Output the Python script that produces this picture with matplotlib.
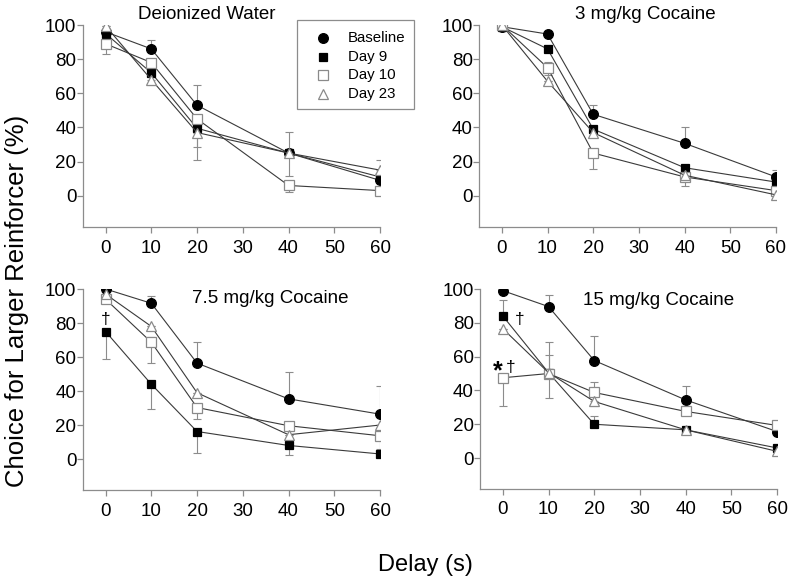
import matplotlib
matplotlib.use("Agg")
import matplotlib.pyplot as plt
from matplotlib.lines import Line2D
from matplotlib.patches import Rectangle

plt.rcParams['font.family'] = ['Liberation Sans', 'DejaVu Sans']

delay = [0, 10, 20, 40, 60]
series_names = ["Baseline", "Day 9", "Day 10", "Day 23"]
panel_titles = ["Deionized Water", "3 mg/kg Cocaine", "7.5 mg/kg Cocaine", "15 mg/kg Cocaine"]

# values per panel, per series
water_baseline = [96, 86, 53, 25, 9]
water_day9 = [95, 72, 39.5, 25, 11]
water_day10 = [89, 78, 45, 6, 3]
water_day23 = [99.5, 68, 37, 25, 15]

c3_baseline = [99, 94.7, 47.7, 30.7, 11]
c3_day9 = [99, 86, 39, 16.4, 8]
c3_day10 = [100, 75, 25, 11, 3]
c3_day23 = [100, 67, 37, 12, 0.5]

c75_baseline = [100, 91.6, 56.4, 35.4, 26.4]
c75_day9 = [75, 44, 16.2, 8, 3]
c75_day10 = [94, 68.7, 30.3, 19.6, 13.7]
c75_day23 = [97, 78, 39, 14.3, 20]

c15_baseline = [99, 89.6, 57.7, 34.4, 15.7]
c15_day9 = [84, 50.5, 20, 16.7, 6]
c15_day10 = [47.5, 50, 38.8, 27.6, 19.3]
c15_day23 = [76.5, 50.5, 33.5, 16.7, 4]

# asymmetric error bars (lower, upper) per series
water_err_lo = [[0, 0, 0, 0, 0], [0, 0, 11, 13.5, 0], [6, 0, 0, 4, 2.5], [0, 3, 16, 0, 0]]
water_err_hi = [[0, 5, 12, 12.5, 0], [0, 0, 0, 0, 0], [0, 2, 0, 0, 0], [0, 0, 0, 0, 6]]
c3_err_lo = [[0, 0, 0, 0, 0], [0, 0, 0, 0, 0], [0, 4, 9.5, 5.3, 0], [0, 0, 0, 0, 0]]
c3_err_hi = [[0, 0, 5.5, 9.5, 4], [0, 2, 0, 0, 0], [0, 3.5, 0, 0, 0], [0, 0, 0, 0, 0]]
c75_err_lo = [[0, 0, 0, 0, 0], [16, 14.5, 12.7, 5.5, 0], [0, 12, 7, 0, 7.8], [0, 0, 0, 0, 0]]
c75_err_hi = [[0, 4, 12.6, 15.6, 16.8], [0, 0, 0, 0, 0], [0, 3, 0, 0, 0], [0, 0, 0, 0, 0]]
c15_err_lo = [[0, 0, 0, 0, 0], [0, 14.7, 0, 0, 0], [17, 0, 0, 0, 0], [0, 0, 3, 0, 0]]
c15_err_hi = [[0, 7, 14.3, 8, 0], [9.5, 0, 4.6, 0, 0], [0, 11, 6, 0, 0], [0, 18.4, 0, 0, 0]]

panels = [
    ([water_baseline, water_day9, water_day10, water_day23], water_err_lo, water_err_hi),
    ([c3_baseline, c3_day9, c3_day10, c3_day23], c3_err_lo, c3_err_hi),
    ([c75_baseline, c75_day9, c75_day10, c75_day23], c75_err_lo, c75_err_hi),
    ([c15_baseline, c15_day9, c15_day10, c15_day23], c15_err_lo, c15_err_hi),
]

styles = [
    dict(marker='o', mfc='black', mec='black', ms=7),
    dict(marker='s', mfc='black', mec='black', ms=6.2),
    dict(marker='s', mfc='white', mec='#8a8a8a', ms=6.5),
    dict(marker='^', mfc='white', mec='#8a8a8a', ms=7.5),
]

fig = plt.figure(figsize=(7.95, 5.87), dpi=100)
W, H = 795.0, 587.0
rects_px = [
    (82.7, 25.0, 380.0, 227.3),
    (479.0, 25.0, 776.0, 227.3),
    (82.7, 289.0, 380.0, 490.0),
    (480.0, 289.0, 777.0, 489.0),
]
ylo = [-18.5, -18.5, -18.2, -18.3]

title_pos = [(22.1, 106, 'center'), (31.4, 106, 'center'), (36.1, 94.5, 'center'), (34.1, 93.0, 'center')]

axes = []
for i, (l, t, r, b) in enumerate(rects_px):
    ax = fig.add_axes([l / W, 1 - b / H, (r - l) / W, (b - t) / H])
    axes.append(ax)
    data, elo, ehi = panels[i]
    for j, vals in enumerate(data):
        ax.errorbar(delay, vals, yerr=[elo[j], ehi[j]], fmt='none', ecolor='#8c8c8c',
                    elinewidth=0.8, capsize=3, capthick=0.8, zorder=2)
    for j, vals in enumerate(data):
        ax.plot(delay, vals, color='#3a3a3a', lw=0.8, zorder=3, **styles[j],
                mew=0.9, label=series_names[j])
    ax.set_xlim(-5, 60)
    ax.set_ylim(ylo[i], 100)
    ax.set_xticks([0, 10, 20, 30, 40, 50, 60])
    ax.set_yticks([0, 20, 40, 60, 80, 100])
    for s in ['top', 'right']:
        ax.spines[s].set_visible(False)
    for s in ['left', 'bottom']:
        ax.spines[s].set_color('#8c8c8c')
        ax.spines[s].set_linewidth(0.9)
    ax.tick_params(axis='both', colors='#8c8c8c', labelcolor='black', labelsize=13.5,
                   length=4, width=0.9, direction='out')
    ax.tick_params(axis='y', pad=0.5)
    ax.tick_params(axis='x', pad=5)
    tx, ty, ha = title_pos[i]
    ax.text(tx, ty, panel_titles[i], fontsize=13.5, ha=ha, va='center', clip_on=False)

# annotations
axes[2].text(0, 82, "\u2020", fontsize=12.5, ha='center', va='center')
axes[3].text(3.65, 82, "\u2020", fontsize=12.5, ha='center', va='center')
axes[3].text(-1.1, 51.5, "*", fontsize=18, fontweight='bold', ha='center', va='center')
axes[3].text(1.8, 53.5, "\u2020", fontsize=12.5, ha='center', va='center')

# legend (drawn in figure pixel coordinates)
fig.add_artist(Rectangle((297 / W, 1 - 109 / H), (414 - 297) / W, (109 - 20) / H,
                         transform=fig.transFigure, facecolor='white',
                         edgecolor='#8c8c8c', linewidth=0.9, zorder=5))
row_y = [38, 57, 75.5, 94]
for j in range(4):
    yy = 1 - row_y[j] / H
    fig.add_artist(Line2D([323 / W], [yy], linestyle='none', transform=fig.transFigure,
                          zorder=6, mew=0.9, **styles[j]))
    fig.text(348 / W, yy, series_names[j], fontsize=10.8, ha='left', va='center', zorder=6)

fig.text(17 / W, 1 - 301 / H, "Choice for Larger Reinforcer (%)", rotation=90,
         fontsize=18.5, ha='center', va='center')
fig.text(425 / W, 1 - 565 / H, "Delay (s)", fontsize=17, ha='center', va='center')

fig.savefig("out.png", dpi=100)
